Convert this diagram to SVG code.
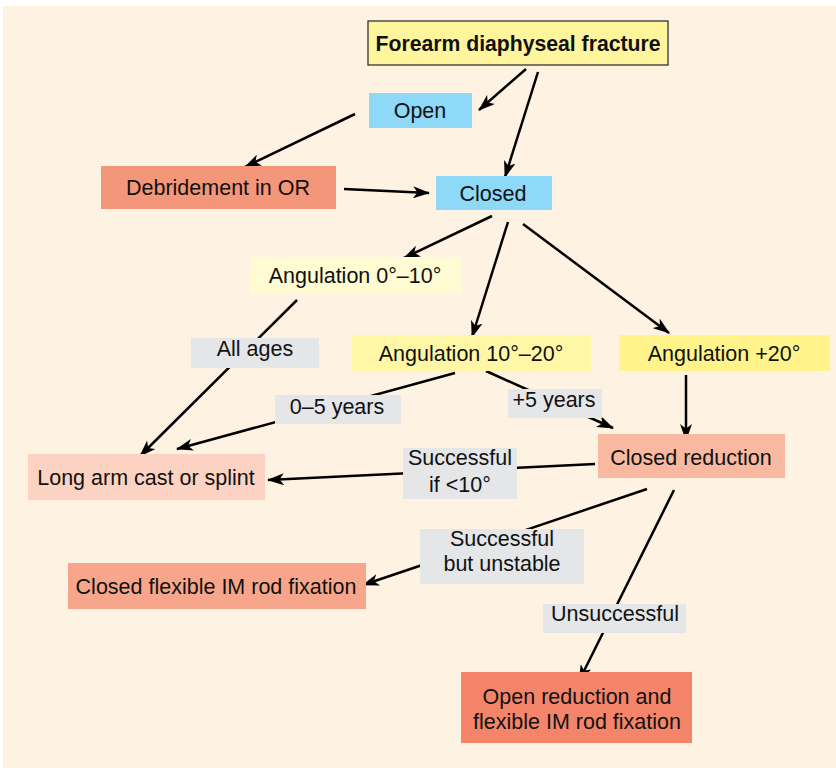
<svg xmlns="http://www.w3.org/2000/svg" width="836" height="768" viewBox="0 0 836 768">
  <style>
    text { font-family: "Liberation Sans", Arial, sans-serif; font-size: 21.5px; fill: #111; text-anchor: middle; }
    .title { font-weight: bold; font-size: 21.2px; }
    .edge { stroke: #000; stroke-width: 2.5; fill: none; marker-end: url(#arrow); }
    .lbl rect { fill: #e5e6e8; }
  </style>
  <defs>
    <marker id="arrow" viewBox="0 0 17 12" refX="16" refY="6" markerWidth="17" markerHeight="12" markerUnits="userSpaceOnUse" orient="auto">
      <path d="M0,0 L17,6 L0,12 L4.5,6 z" fill="#000"/>
    </marker>
  </defs>

  <rect x="0" y="0" width="836" height="768" fill="#ffffff"/>
  <rect x="3" y="6" width="833" height="762" fill="#fef2e2"/>

  <!-- connectors -->
  <g id="connectors">
    <line class="edge" x1="526" y1="69" x2="479" y2="110"/>
    <line class="edge" x1="538" y1="72" x2="505" y2="177"/>
    <line class="edge" x1="355" y1="114" x2="245" y2="167"/>
    <line class="edge" x1="344" y1="189" x2="429" y2="193"/>
    <line class="edge" x1="492" y1="216" x2="404" y2="258"/>
    <line class="edge" x1="508" y1="222" x2="472" y2="337"/>
    <line class="edge" x1="523" y1="224" x2="669" y2="333"/>
    <line class="edge" x1="297" y1="300" x2="140" y2="456"/>
    <line class="edge" x1="455" y1="373" x2="177" y2="449"/>
    <line class="edge" x1="486" y1="371" x2="613" y2="428"/>
    <line class="edge" x1="686" y1="375" x2="686" y2="440"/>
    <line class="edge" x1="595" y1="464" x2="268" y2="480"/>
    <line class="edge" x1="647" y1="489" x2="363" y2="585"/>
    <line class="edge" x1="674" y1="490" x2="579" y2="681"/>
  </g>

  <!-- edge labels -->
  <g id="label-all-ages" class="lbl"><rect x="191" y="338" width="128" height="30"/><text x="255" y="356">All ages</text></g>
  <g id="label-0-5" class="lbl"><rect x="275" y="395" width="126" height="29"/><text x="337" y="414">0–5 years</text></g>
  <g id="label-5plus" class="lbl"><rect x="508" y="389" width="94" height="29"/><text x="554" y="407">+5 years</text></g>
  <g id="label-success" class="lbl"><rect x="403" y="448" width="114" height="51"/><text x="460" y="465">Successful</text><text x="460" y="492">if &lt;10°</text></g>
  <g id="label-unstable" class="lbl"><rect x="420" y="529" width="164" height="55"/><text x="502" y="546">Successful</text><text x="502" y="571">but unstable</text></g>
  <g id="label-unsuccessful" class="lbl"><rect x="543" y="604" width="143" height="29"/><text x="615" y="621">Unsuccessful</text></g>

  <!-- nodes -->
  <g id="forearm"><rect x="368" y="21" width="300" height="44" fill="#fff59c" stroke="#333" stroke-width="1.3"/><text class="title" x="518" y="50.5">Forearm diaphyseal fracture</text></g>
  <g id="open"><rect x="369" y="93" width="103" height="35" fill="#8ed8f8"/><text x="420" y="118">Open</text></g>
  <g id="closed"><rect x="436" y="176" width="116" height="34" fill="#8ed8f8"/><text x="493" y="201">Closed</text></g>
  <g id="debridement"><rect x="101" y="166" width="235" height="43" fill="#f4967a"/><text x="218" y="195">Debridement in OR</text></g>
  <g id="ang-0-10"><rect x="250" y="257" width="212" height="36" fill="#fffbd2"/><text x="355" y="283">Angulation 0°–10°</text></g>
  <g id="ang-10-20"><rect x="352" y="335" width="239" height="36" fill="#fff7a6"/><text x="471" y="361">Angulation 10°–20°</text></g>
  <g id="ang-20"><rect x="619" y="335" width="211" height="36" fill="#fff389"/><text x="724" y="361">Angulation +20°</text></g>
  <g id="closed-reduction"><rect x="598" y="434" width="187" height="44" fill="#f9b9a0"/><text x="691" y="465">Closed reduction</text></g>
  <g id="long-arm"><rect x="28" y="454" width="237" height="46" fill="#fcd3c2"/><text x="146" y="485">Long arm cast or splint</text></g>
  <g id="closed-flexible"><rect x="68" y="563" width="298" height="46" fill="#f7a68c"/><text x="216" y="594">Closed flexible IM rod fixation</text></g>
  <g id="open-reduction"><rect x="461" y="672" width="231" height="71" fill="#f4856a"/><text x="577" y="703.5">Open reduction and</text><text x="577" y="728.5">flexible IM rod fixation</text></g>
</svg>
